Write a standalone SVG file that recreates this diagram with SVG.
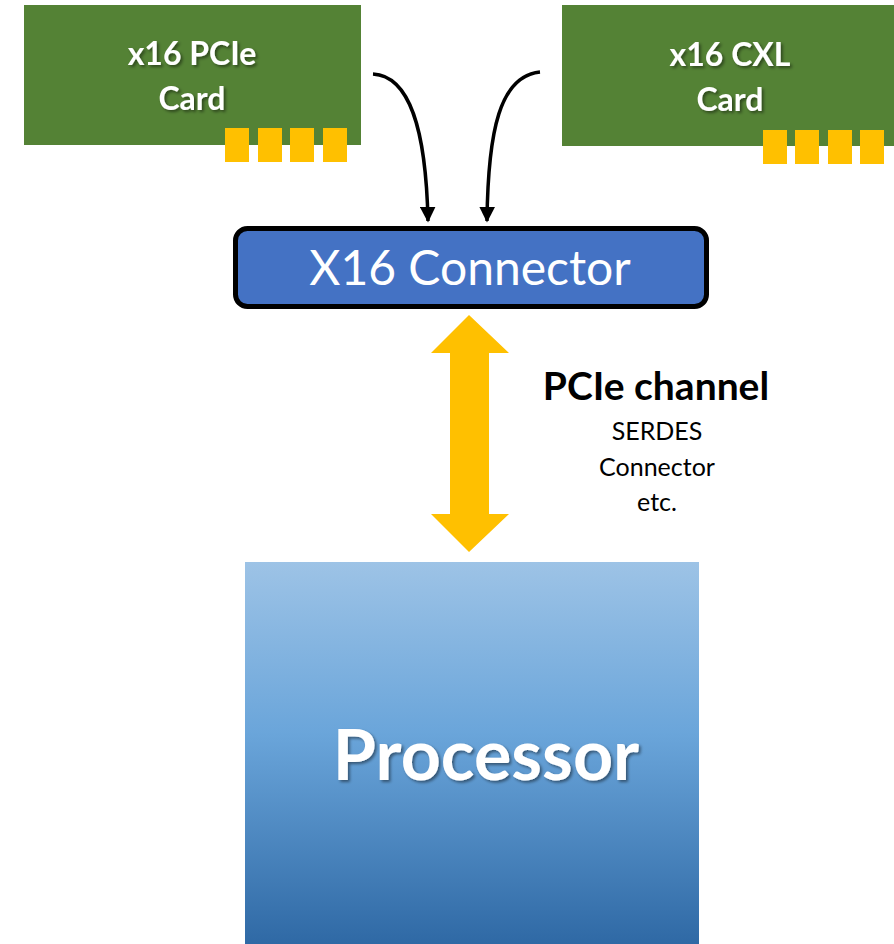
<svg xmlns="http://www.w3.org/2000/svg" width="894" height="944" viewBox="0 0 894 944">
<style>
.card{fill:#548235}
.pad{fill:#FFC000}
.ct{font-family:Lato,"Open Sans",sans-serif;font-weight:bold;font-size:32px;fill:#fff;text-anchor:middle}
.lbl{font-family:Lato,"Open Sans",sans-serif;fill:#000;text-anchor:middle}
.wire{fill:none;stroke:#000;stroke-width:3.5}
</style>
<defs>
<linearGradient id="pg" x1="0" y1="0" x2="0" y2="1">
<stop offset="0" stop-color="#9DC3E6"/>
<stop offset="0.45" stop-color="#6AA5DA"/>
<stop offset="1" stop-color="#2F69A5"/>
</linearGradient>
<filter id="sh" x="-10%" y="-20%" width="120%" height="140%">
<feDropShadow dx="2" dy="2" stdDeviation="1.5" flood-color="#000" flood-opacity="0.45"/>
</filter>
<marker id="ah" viewBox="0 0 10 10" refX="9" refY="5" markerWidth="4.5" markerHeight="4.5" orient="auto" markerUnits="strokeWidth">
<path d="M0,0 L10,5 L0,10 z" fill="#000"/>
</marker>
</defs>
<g id="pcie-card">
<rect class="card" x="24" y="5" width="337" height="140"/>
<rect class="pad" x="225" y="128" width="24" height="34"/>
<rect class="pad" x="258" y="128" width="24" height="34"/>
<rect class="pad" x="290" y="128" width="24" height="34"/>
<rect class="pad" x="323" y="128" width="24" height="34"/>
<text class="ct" filter="url(#sh)"><tspan x="192" y="65">x16 PCIe</tspan><tspan x="192" y="110">Card</tspan></text>
</g>
<g id="cxl-card">
<rect class="card" x="562" y="5" width="332" height="141"/>
<rect class="pad" x="763" y="130" width="24" height="34"/>
<rect class="pad" x="795" y="130" width="24" height="34"/>
<rect class="pad" x="828" y="130" width="24" height="34"/>
<rect class="pad" x="860" y="130" width="24" height="34"/>
<text class="ct" filter="url(#sh)"><tspan x="730" y="66">x16 CXL</tspan><tspan x="730" y="111">Card</tspan></text>
</g>
<g id="connector">
<rect x="235.5" y="228.5" width="471" height="78" rx="12" fill="#4472C4" stroke="#000" stroke-width="5"/>
<text x="470" y="285" font-family="Lato,'Open Sans',sans-serif" font-size="48" fill="#fff" text-anchor="middle">X16 Connector</text>
</g>
<g id="processor">
<rect x="245" y="562" width="454" height="382" fill="url(#pg)"/>
<text x="486" y="780" font-family="Lato,'Open Sans',sans-serif" font-weight="bold" font-size="70" fill="#fff" text-anchor="middle" filter="url(#sh)">Processor</text>
</g>
<g id="channel-label">
<text class="lbl" x="656" y="400" font-size="39" font-weight="bold">PCIe channel</text>
<text class="lbl" x="657" y="440" font-size="25">SERDES</text>
<text class="lbl" x="657" y="476" font-size="25">Connector</text>
<text class="lbl" x="657" y="511" font-size="25">etc.</text>
</g>
<g id="connectors">
<path class="wire" d="M373,74 C410,76 426,130 428,221" marker-end="url(#ah)"/>
<path class="wire" d="M540,72 C500,76 488,130 487,221" marker-end="url(#ah)"/>
<polygon fill="#FFC000" points="469,315 509,353 489,353 489,514 509,514 469,552 431,514 450,514 450,353 431,353"/>
</g>
</svg>
